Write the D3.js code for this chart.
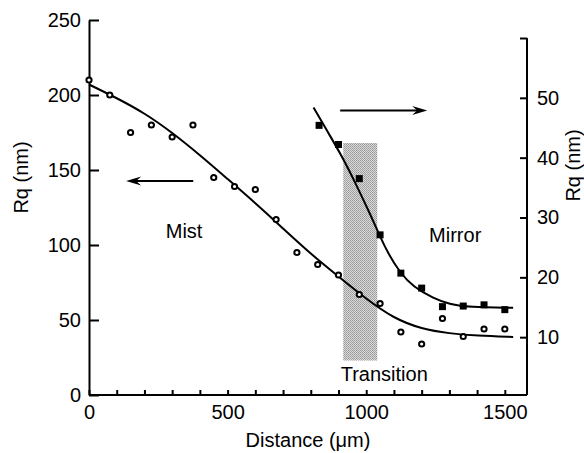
<!DOCTYPE html>
<html>
<head>
<meta charset="utf-8">
<script src="https://cdn.jsdelivr.net/npm/d3@7"></script>
<style>
  html, body { margin: 0; padding: 0; background: #fff; }
  svg { display: block; font-family: "Liberation Sans", Arial, Helvetica, sans-serif; }
  .axis path, .axis line { stroke: #000; stroke-width: 2; }
  .axis text { font-size: 20px; fill: #000; font-family: "Liberation Sans", Arial, sans-serif; }
</style>
</head>
<body>
<svg id="chart" width="584" height="453"></svg>
<script>
// Mist region roughness (left axis, nm) measured along the fracture surface
const mistDistance = [0, 75, 150, 225, 300, 375, 450, 525, 600, 675, 750,
                      825, 900, 975, 1050, 1125, 1200, 1275, 1350, 1425, 1500];
const mistRq = [210, 200, 175, 180, 172, 180, 145, 139, 137, 117, 95,
                87, 80, 67, 61, 42, 34, 51, 39, 44, 44];

// Mirror region roughness (right axis, nm)
const mirrorDistance = [830, 900, 975, 1050, 1125, 1200, 1275, 1350, 1425, 1500];
const mirrorRq = [45.4, 42.2, 36.5, 27.1, 20.7, 18.2, 15.1, 15.2, 15.4, 14.6];

// Smoothed trend lines
const mistFitDistance = [0, 100, 200, 300, 400, 500, 600, 700, 800, 900, 1000, 1100, 1200, 1300, 1400, 1530];
const mistFitRq = [207, 198, 188, 175, 160, 144, 128, 111, 94, 79, 64, 51, 44, 41, 39.5, 38.7];
const mirrorFitDistance = [810, 860, 913, 965, 1018, 1050, 1080, 1123, 1170, 1242, 1300, 1370, 1530];
const mirrorFitRq = [48.4, 44.4, 40.2, 35.4, 30.2, 26.8, 23.9, 20.7, 18.4, 16.5, 15.5, 15.0, 14.9];

// Transition band: distance extent and Rq extent (left axis units)
const transitionDistance = [917, 1040];
const transitionRq = [23, 168];

// Tick values
const leftTicks = [0, 50, 100, 150, 200, 250];
const rightTicks = [10, 20, 30, 40, 50, 60];
const rightLabels = [10, 20, 30, 40, 50];
const xTicks = [0, 100, 200, 300, 400, 500, 600, 700, 800, 900, 1000, 1100, 1200, 1300, 1400, 1500];
const xLabels = [0, 500, 1000, 1500];

const svg = d3.select("#chart");

const x = d3.scaleLinear().domain([0, 1580]).range([89, 527]);
const yL = d3.scaleLinear().domain([0, 250]).range([395, 20]);
const yR = d3.scaleLinear().domain([0, 60]).range([397, 38]);

// stippled fill for the transition band
const defs = svg.append("defs");
const pat = defs.append("pattern")
  .attr("id", "stipple").attr("patternUnits", "userSpaceOnUse")
  .attr("width", 2).attr("height", 2);
pat.append("rect").attr("width", 2).attr("height", 2).attr("fill", "#dadada");
pat.append("rect").attr("x", 0).attr("y", 0).attr("width", 1).attr("height", 1).attr("fill", "#9a9a9a");
pat.append("rect").attr("x", 1).attr("y", 1).attr("width", 1).attr("height", 1).attr("fill", "#a4a4a4");

svg.append("rect")
  .attr("x", x(transitionDistance[0]))
  .attr("width", x(transitionDistance[1]) - x(transitionDistance[0]))
  .attr("y", yL(transitionRq[1]))
  .attr("height", yL(transitionRq[0]) - yL(transitionRq[1]))
  .attr("fill", "url(#stipple)");

// axes
const gx = svg.append("g").attr("class", "axis")
  .attr("transform", `translate(0,${yL(0)})`)
  .call(d3.axisBottom(x).tickValues(xTicks).tickSizeInner(-5).tickSizeOuter(0).tickPadding(10)
    .tickFormat(d => xLabels.includes(d) ? d : ""));
gx.select(".domain").attr("d", `M${x(0)},0H${x.range()[1]}`);
gx.selectAll(".tick line").attr("stroke-width", 1.5);

const gl = svg.append("g").attr("class", "axis")
  .attr("transform", `translate(${x(0)},0)`)
  .call(d3.axisLeft(yL).tickValues(leftTicks).tickSizeInner(-10).tickSizeOuter(0).tickPadding(8));

const gr = svg.append("g").attr("class", "axis")
  .attr("transform", `translate(${x.range()[1]},0)`)
  .call(d3.axisRight(yR).tickValues(rightTicks).tickSizeInner(-7).tickSizeOuter(0).tickPadding(10)
    .tickFormat(d => rightLabels.includes(d) ? d : ""));
gr.select(".domain").attr("d", `M0,${yR(60)}V${yL(0)}`);

// axis titles
svg.append("text")
  .attr("transform", `translate(21,${(yL(0) + yL(250)) / 2 - 30}) rotate(-90)`)
  .attr("text-anchor", "middle").attr("dominant-baseline", "central")
  .attr("font-size", 20).text("Rq (nm)");
svg.append("text")
  .attr("transform", `translate(573,${(yR(0) + yR(60)) / 2 - 52}) rotate(-90)`)
  .attr("text-anchor", "middle").attr("dominant-baseline", "central")
  .attr("font-size", 20).text("Rq (nm)");
svg.append("text")
  .attr("x", x(790)).attr("y", 447)
  .attr("text-anchor", "middle").attr("font-size", 20).text("Distance (μm)");

// trend lines
const mistLine = d3.line().x(d => x(d[0])).y(d => yL(d[1])).curve(d3.curveBasis);
const mirrorLine = d3.line().x(d => x(d[0])).y(d => yR(d[1])).curve(d3.curveBasis);
svg.append("path")
  .datum(d3.zip(mistFitDistance, mistFitRq))
  .attr("d", mistLine).attr("fill", "none").attr("stroke", "#000").attr("stroke-width", 2);
svg.append("path")
  .datum(d3.zip(mirrorFitDistance, mirrorFitRq))
  .attr("d", mirrorLine).attr("fill", "none").attr("stroke", "#000").attr("stroke-width", 2);

// mist points: open circles
svg.append("g").selectAll("circle")
  .data(d3.zip(mistDistance, mistRq))
  .join("circle")
  .attr("cx", d => x(d[0])).attr("cy", d => yL(d[1])).attr("r", 2.6)
  .attr("fill", "#fff").attr("stroke", "#000").attr("stroke-width", 2);

// mirror points: filled squares
const sq = 7;
svg.append("g").selectAll("rect")
  .data(d3.zip(mirrorDistance, mirrorRq))
  .join("rect")
  .attr("x", d => x(d[0]) - sq / 2).attr("y", d => yR(d[1]) - sq / 2)
  .attr("width", sq).attr("height", sq).attr("fill", "#000");

// arrows pointing to the axis each series belongs to
function arrow(x1, x2, yPix) {
  const dir = Math.sign(x2 - x1);
  svg.append("line")
    .attr("x1", x1).attr("x2", x2 - dir * 8).attr("y1", yPix).attr("y2", yPix)
    .attr("stroke", "#000").attr("stroke-width", 2);
  svg.append("path")
    .attr("d", `M${x2},${yPix}L${x2 - dir * 15},${yPix - 4.5}L${x2 - dir * 10},${yPix}L${x2 - dir * 15},${yPix + 4.5}Z`)
    .attr("fill", "#000");
}
arrow(x(376), x(134), yL(142.7));
arrow(x(906), x(1220), yR(47.9));

// region labels
svg.append("text").attr("x", x(343)).attr("y", yL(105))
  .attr("text-anchor", "middle").attr("font-size", 20).text("Mist");
svg.append("text").attr("x", x(1321)).attr("y", yL(102))
  .attr("text-anchor", "middle").attr("font-size", 20).text("Mirror");
svg.append("text").attr("x", x(1065)).attr("y", yL(9.3))
  .attr("text-anchor", "middle").attr("font-size", 20).text("Transition");
</script>
</body>
</html>
